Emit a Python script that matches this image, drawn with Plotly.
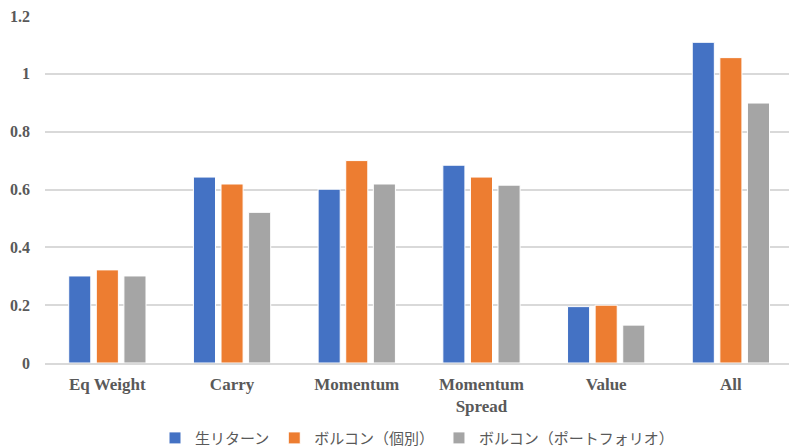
import plotly.graph_objects as go

categories = ["Eq Weight", "Carry", "Momentum", "Momentum<br>Spread", "Value", "All"]
raw_return = [0.301, 0.643, 0.601, 0.684, 0.195, 1.109]
volcon_individual = [0.322, 0.619, 0.700, 0.643, 0.200, 1.056]
volcon_portfolio = [0.301, 0.521, 0.619, 0.615, 0.131, 0.899]

series = [
    ("生リターン", raw_return, "#4472C4"),
    ("ボルコン（個別）", volcon_individual, "#ED7D31"),
    ("ボルコン（ポートフォリオ）", volcon_portfolio, "#A5A5A5"),
]

fig = go.Figure()
for name, vals, color in series:
    fig.add_trace(go.Bar(
        x=categories, y=vals, name=name,
        marker=dict(color=color, line=dict(color="white", width=1)),
    ))

serif_bold = dict(family="Liberation Serif, Times New Roman, serif", size=17,
                  color="#595959", weight="bold")

fig.update_layout(
    width=789, height=448,
    margin=dict(l=45, r=0, t=16, b=85),
    paper_bgcolor="white", plot_bgcolor="white",
    barmode="group", bargap=0.336, bargroupgap=0.2,
    showlegend=True,
    legend=dict(
        orientation="h", x=0.5, xanchor="center",
        yref="container", y=0.022, yanchor="middle",
        font=dict(family="Noto Sans CJK JP", size=15, color="#595959"),
        itemwidth=30, traceorder="normal",
    ),
    xaxis=dict(
        range=[-0.5, 5.466], showgrid=False,
        showline=True, linecolor="#D9D9D9", linewidth=1.5,
        tickfont=serif_bold, ticks="", fixedrange=True,
        ticklabelstandoff=5,
    ),
    yaxis=dict(
        range=[0, 1.2], dtick=0.2, tickformat="~g",
        showgrid=True, gridcolor="#D9D9D9", gridwidth=1.5,
        zeroline=False, showline=False,
        tickfont=dict(serif_bold, size=16), ticklabelstandoff=14,
    ),
)

fig.write_html("out.html")
